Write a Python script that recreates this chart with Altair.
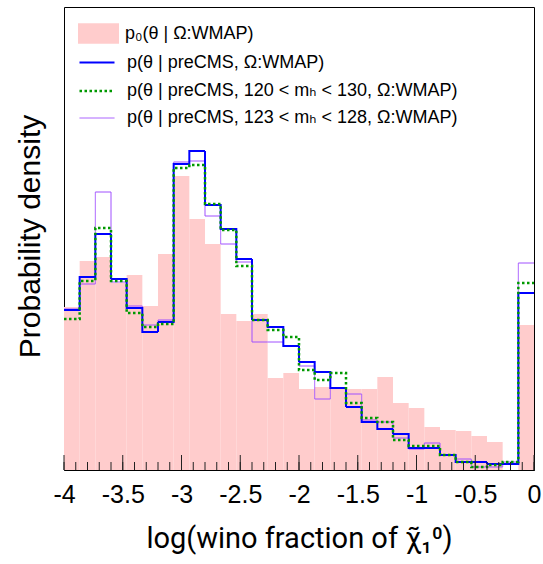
import altair as alt
import pandas as pd

# ---------------- data ----------------
N_BINS = 30
X_MIN, X_MAX = -4.0, 0.0
BIN_EDGES = [round(X_MIN + i * (X_MAX - X_MIN) / N_BINS, 6) for i in range(N_BINS + 1)]

LABEL_PRIOR = "p₀(θ | Ω:WMAP)"
LABEL_BLUE = "p(θ | preCMS, Ω:WMAP)"
LABEL_GREEN = "p(θ | preCMS, 120 < mₕ < 130, Ω:WMAP)"
LABEL_PURPLE = "p(θ | preCMS, 123 < mₕ < 128, Ω:WMAP)"

prior = [1.63, 2.09, 2.13, 1.87, 1.95, 1.64, 2.16, 2.94, 2.51, 2.26,
         1.56, 1.49, 1.56, 0.92, 0.97, 0.81, 0.83, 0.82, 0.81, 0.81,
         0.93, 0.67, 0.62, 0.43, 0.40, 0.39, 0.34, 0.28, 0.00, 1.45]
pre_cms = [1.60, 1.93, 2.36, 1.91, 1.62, 1.38, 1.48, 3.06, 3.19, 2.65,
           2.41, 2.11, 1.50, 1.43, 1.24, 1.08, 0.98, 0.82, 0.63, 0.48,
           0.41, 0.36, 0.22, 0.22, 0.15, 0.08, 0.08, 0.06, 0.06, 1.77]
pre_cms_120_130 = [1.51, 1.89, 2.42, 1.89, 1.57, 1.43, 1.46, 3.02, 3.05, 2.66,
                   2.40, 2.04, 1.50, 1.40, 1.33, 1.00, 0.90, 0.97, 0.67, 0.52,
                   0.48, 0.30, 0.24, 0.24, 0.15, 0.08, 0.03, 0.05, 0.08, 1.87]
pre_cms_123_128 = [1.61, 1.86, 2.78, 1.88, 1.64, 1.45, 1.50, 3.08, 3.09, 2.54,
                   2.26, 2.08, 1.28, 1.28, 1.24, 1.04, 0.71, 0.82, 0.76, 0.50,
                   0.48, 0.32, 0.21, 0.27, 0.15, 0.11, 0.03, 0.03, 0.08, 2.07]

MAJOR_TICKS = [-4.0, -3.5, -3.0, -2.5, -2.0, -1.5, -1.0, -0.5, 0.0]
MINOR_TICKS = [round(-4.0 + 0.1 * i, 2) for i in range(41)]

Y_MAX = 4.63
W, H = 470, 463
FONT = "Liberation Sans, DejaVu Sans"
TITLE_FONT = "Roboto"

# ---------------- tables ----------------
prior_df = pd.DataFrame({
    "x0": BIN_EDGES[:-1], "x1": BIN_EDGES[1:], "v": prior,
    "series": [LABEL_PRIOR] * N_BINS,
})

line_rows = []
for lab, vals in [(LABEL_PURPLE, pre_cms_123_128), (LABEL_BLUE, pre_cms),
                  (LABEL_GREEN, pre_cms_120_130)]:
    ext = vals + [vals[-1]]
    for x, v in zip(BIN_EDGES, ext):
        line_rows.append({"x": x, "v": v, "series": lab})
lines_df = pd.DataFrame(line_rows)

major_df = pd.DataFrame({"t": MAJOR_TICKS})
minor_df = pd.DataFrame({"t": MINOR_TICKS})

x_scale = alt.Scale(domain=[X_MIN, X_MAX], nice=False, zero=False)
y_scale = alt.Scale(domain=[0, Y_MAX], nice=False)

LINE_DOMAIN = [LABEL_BLUE, LABEL_GREEN, LABEL_PURPLE]
LINE_COLORS = ["#0000ff", "#009900", "#a050ff"]
LINE_DASH = [[1, 0], [2.5, 2.5], [1, 0]]
LINE_WIDTH = [2, 2.5, 1]

x_axis = alt.Axis(
    values=MAJOR_TICKS, ticks=False, grid=False, domainColor="black",
    labelFont=FONT, labelFontSize=25, labelColor="black",
    labelBaseline="alphabetic", labelPadding=32, labelFlush=False,
    labelOverlap=False,
    labelExpr="datum.value == 0 ? '0' : '' + datum.value",
    title="log(wino fraction of χ̃₁⁰)", titleFont=TITLE_FONT, titleFontSize=29,
    titleFontWeight="normal", titleColor="black",
    titleBaseline="alphabetic", titleY=77,
)
y_axis = alt.Axis(
    labels=False, ticks=False, grid=False, domain=False,
    title="Probability density", titleFont=FONT, titleFontSize=30,
    titleFontWeight="normal", titleColor="black",
    titleBaseline="alphabetic", titleX=-24.5, titleY=229,
)

bars = alt.Chart(prior_df).mark_rect(strokeWidth=0).encode(
    x=alt.X("x0:Q", scale=x_scale, axis=x_axis),
    x2="x1:Q",
    y=alt.Y("v:Q", scale=y_scale, axis=y_axis),
    y2=alt.datum(0),
    fill=alt.Fill(
        "series:N",
        scale=alt.Scale(domain=[LABEL_PRIOR], range=["#ffcccc"]),
        legend=alt.Legend(
            title=None, orient="none", legendX=14, legendY=6, padding=0,
            symbolType="M-1,-0.5H1V0.5H-1Z", symbolSize=1681,
            symbolStrokeWidth=0, symbolOpacity=1,
            labelFont=FONT, labelFontSize=18, labelColor="black",
            labelOffset=6, labelLimit=600,
        ),
    ),
)

stroke_enc = dict(
    stroke=alt.Stroke(
        "series:N",
        scale=alt.Scale(domain=LINE_DOMAIN, range=LINE_COLORS),
        legend=alt.Legend(
            title=None, orient="none", legendX=14, legendY=37, padding=0,
            symbolType="stroke", symbolSize=1225,
            labelFont=FONT, labelFontSize=18, labelColor="black",
            labelOffset=11, labelLimit=600, rowPadding=-14,
        ),
    ),
    strokeDash=alt.StrokeDash(
        "series:N", scale=alt.Scale(domain=LINE_DOMAIN, range=LINE_DASH)),
    strokeWidth=alt.StrokeWidth(
        "series:N",
        scale=alt.Scale(type="ordinal", domain=LINE_DOMAIN, range=LINE_WIDTH)),
)


def step_layer(label):
    return alt.Chart(lines_df).transform_filter(
        alt.datum.series == label
    ).mark_line(interpolate="step-after").encode(
        x=alt.X("x:Q", scale=x_scale),
        y=alt.Y("v:Q", scale=y_scale),
        **stroke_enc,
    )


major = alt.Chart(major_df).mark_rule(color="#222222", strokeWidth=1).encode(
    x=alt.X("t:Q", scale=x_scale), y=alt.value(H), y2=alt.value(H - 15))
minor = alt.Chart(minor_df).mark_rule(color="#222222", strokeWidth=1).encode(
    x=alt.X("t:Q", scale=x_scale), y=alt.value(H), y2=alt.value(H - 8))

chart = alt.layer(
    bars,
    step_layer(LABEL_PURPLE),
    step_layer(LABEL_BLUE),
    step_layer(LABEL_GREEN),
    minor,
    major,
).properties(
    width=W, height=H,
    autosize=alt.AutoSizeParams(type="none"),
    padding={"left": 64, "top": 7, "right": 9, "bottom": 94},
    background="white",
).configure_view(
    stroke="black", strokeWidth=1,
)

chart.save("out.html", embed_options={"renderer": "svg", "actions": False})
